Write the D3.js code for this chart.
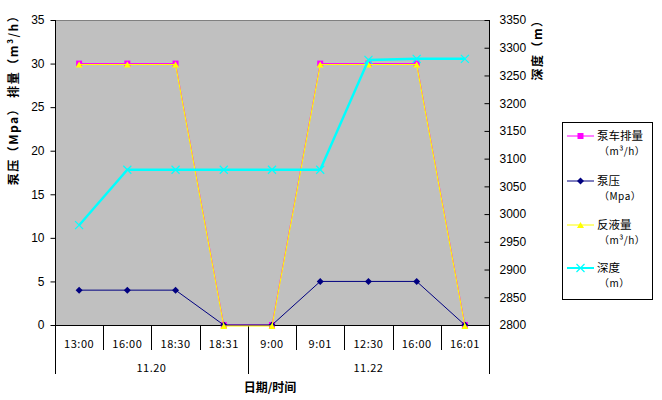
<!DOCTYPE html>
<html><head><meta charset="utf-8">
<script src="https://cdn.jsdelivr.net/npm/d3@7"></script>
<style>body{margin:0;background:#fff}svg{display:block}</style>
</head><body>
<script>
const categories = ["13:00","16:00","18:30","18:31","9:00","9:01","12:30","16:00","16:01"];
const groups = [{label:"11.20", count:4},{label:"11.22", count:5}];
const pumpRate = [30,30,30,0,0,30,30,30,0];
const pressure = [4,4,4,0,0,5,5,5,0];
const returnFlow = [30,30,30,0,0,30,30,30,0];
const depth = [2980,3080,3080,3080,3080,3080,3278,3280,3280];
const leftTicks = [0,5,10,15,20,25,30,35];
const rightTicks = [2800,2850,2900,2950,3000,3050,3100,3150,3200,3250,3300,3350];

const W=662,H=400;
const L=55,R=489,T=20,B=325;
const svg=d3.select("body").append("svg").attr("width",W).attr("height",H);
const x=d3.scaleBand().domain(categories.map((c,i)=>i)).range([L,R]);
const yL=d3.scaleLinear().domain([0,35]).range([B,T]);
const yR=d3.scaleLinear().domain([2800,3350]).range([B,T]);
const font="'Liberation Sans', Arial, sans-serif";
const cjk="'Noto Sans CJK SC', sans-serif";

svg.append("rect").attr("x",L).attr("y",T).attr("width",R-L).attr("height",B-T).attr("fill","#c0c0c0");
svg.append("line").attr("x1",L).attr("x2",R).attr("y1",T+0.5).attr("y2",T+0.5).attr("stroke","#808080");

// left axis
const gl=svg.append("g").attr("transform",`translate(${L+0.5},0)`)
  .call(d3.axisLeft(yL).tickValues(leftTicks).tickSize(5).tickPadding(6).tickFormat(d3.format("d")));
gl.select(".domain").remove();
gl.selectAll("line").attr("stroke","#000");
gl.selectAll("text").attr("font-family",font).attr("font-size",12).attr("fill","#000");
svg.append("line").attr("x1",L+0.5).attr("x2",L+0.5).attr("y1",T).attr("y2",374).attr("stroke","#000");

// right axis
const gr=svg.append("g").attr("transform",`translate(${R+0.5},0)`)
  .call(d3.axisRight(yR).tickValues(rightTicks).tickSize(-5).tickPadding(10).tickFormat(d3.format("d")));
gr.select(".domain").remove();
gr.selectAll("line").attr("stroke","#000");
gr.selectAll("text").attr("font-family",font).attr("font-size",12).attr("fill","#000");
svg.append("line").attr("x1",R+0.5).attr("x2",R+0.5).attr("y1",T).attr("y2",374).attr("stroke","#000");

// bottom axis
svg.append("line").attr("x1",L).attr("x2",R).attr("y1",B+0.5).attr("y2",B+0.5).attr("stroke","#000");
const bw=x.bandwidth();
let gi=[0]; let acc=0; groups.forEach(g=>{acc+=g.count;gi.push(acc);});
for(let k=0;k<=categories.length;k++){
  const xx=Math.round(L+k*bw)+0.5;
  const isSep=gi.includes(k);
  svg.append("line").attr("x1",xx).attr("x2",xx).attr("y1",B).attr("y2",isSep?374:350).attr("stroke","#000");
}
svg.selectAll(".cat").data(categories).enter().append("text")
  .attr("x",(d,i)=>x(i)+bw/2).attr("y",348).attr("text-anchor","middle")
  .attr("font-family",cjk).attr("font-size",11).attr("letter-spacing",0.5).text(d=>d);
let start=0;
groups.forEach(g=>{
  svg.append("text").attr("x",L+(start+g.count/2)*bw).attr("y",372).attr("text-anchor","middle")
    .attr("font-family",cjk).attr("font-size",11).attr("letter-spacing",0.5).text(g.label);
  start+=g.count;
});
svg.append("text").attr("x",270).attr("y",392).attr("text-anchor","middle")
  .attr("font-family",cjk).attr("font-size",12).attr("font-weight","bold").text("日期/时间");

// axis titles
svg.append("text").attr("transform","translate(18,97) rotate(-90)").attr("text-anchor","middle")
  .attr("font-family",cjk).attr("font-size",12).attr("font-weight","bold").attr("letter-spacing",1.5)
  .text("泵压（Mpa） 排量（m³/h）");
svg.append("text").attr("transform","translate(542,47) rotate(-90)").attr("text-anchor","middle")
  .attr("font-family",cjk).attr("font-size",12).attr("font-weight","bold").attr("letter-spacing",1.5)
  .text("深度（m）");

const cx=i=>x(i)+bw/2;
function series(g,data,scale,color,width){
  g.append("path").datum(data).attr("fill","none").attr("stroke",color).attr("stroke-width",width)
    .attr("d",d3.line().x((d,i)=>cx(i)).y(d=>scale(d)));
}
function marker(g,type,color){
  if(type==="square") g.append("rect").attr("x",-3).attr("y",-3).attr("width",6).attr("height",6).attr("fill",color);
  if(type==="diamond") g.append("path").attr("d","M0,-3.5L3.5,0L0,3.5L-3.5,0Z").attr("fill",color);
  if(type==="triangle") g.append("path").attr("d","M0,-3L3.5,3L-3.5,3Z").attr("fill",color);
  if(type==="x") g.append("path").attr("d","M-4,-4L4,4M-4,4L4,-4").attr("stroke",color).attr("stroke-width",1.2);
}
function markers(g,data,scale,type,color){
  data.forEach((d,i)=>{const m=g.append("g").attr("transform",`translate(${cx(i)},${scale(d)})`);marker(m,type,color);});
}
const gMag=svg.append("g");
const gNav=svg.append("g");
const gYel=svg.append("g").attr("transform","translate(0,1)");
const gCy=svg.append("g");
series(gMag,pumpRate,yL,"#ff00ff",1); markers(gMag,pumpRate,yL,"square","#ff00ff");
series(gNav,pressure,yL,"#000080",1); markers(gNav,pressure,yL,"diamond","#000080");
series(gYel,returnFlow,yL,"#ffff00",1.1); markers(gYel,returnFlow,yL,"triangle","#ffff00");
series(gCy,depth,yR,"#00ffff",2.4); markers(gCy,depth,yR,"x","#00ffff");

// legend
svg.append("rect").attr("x",562.5).attr("y",122.5).attr("width",90).attr("height",177).attr("fill","#fff").attr("stroke","#000");
const leg=[
  {n:"泵车排量",u:"（m³/h）",c:"#ff00ff",m:"square",y:136},
  {n:"泵压",u:"（Mpa）",c:"#000080",m:"diamond",y:181},
  {n:"反液量",u:"（m³/h）",c:"#ffff00",m:"triangle",y:225},
  {n:"深度",u:"（m）",c:"#00ffff",m:"x",y:268}
];
leg.forEach(l=>{
  svg.append("line").attr("x1",567).attr("x2",594).attr("y1",l.y).attr("y2",l.y).attr("stroke",l.c).attr("stroke-width",l.m==="x"?2:1);
  marker(svg.append("g").attr("transform",`translate(580.5,${l.y})`),l.m,l.c);
  svg.append("text").attr("x",597).attr("y",l.y+4).attr("font-family",cjk).attr("font-size",11.5).text(l.n);
  svg.append("text").attr("x",599).attr("y",l.y+19).attr("font-family",cjk).attr("font-size",10).attr("letter-spacing",0.5).text(l.u);
});
</script>
</body></html>
